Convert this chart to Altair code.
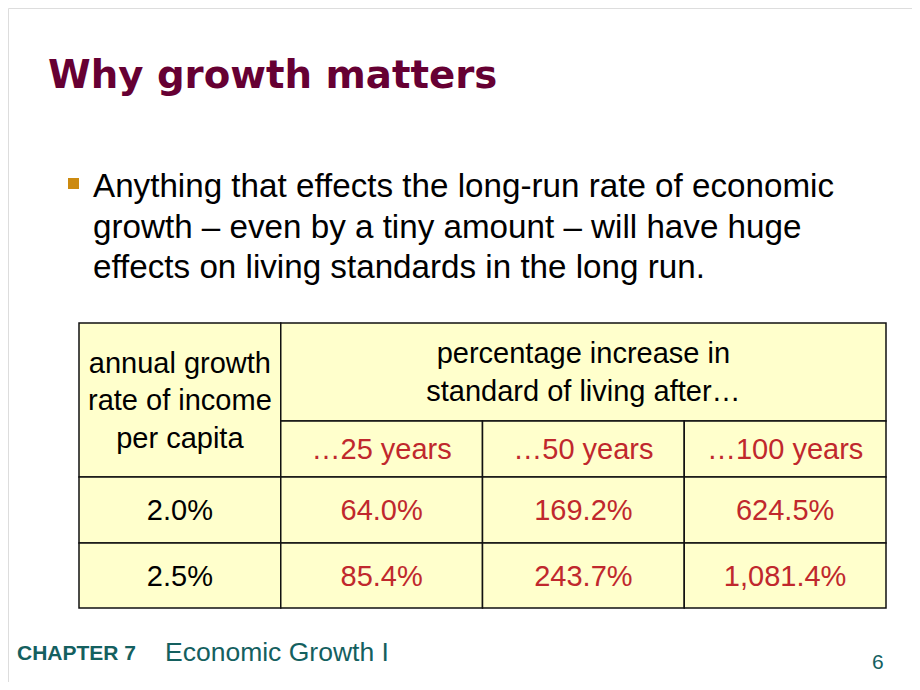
import altair as alt
import pandas as pd

# ---------------- content ----------------
TITLE = "Why growth matters"
BULLET_LINES = [
    "Anything that effects the long-run rate of economic",
    "growth – even by a tiny amount – will have huge",
    "effects on living standards in the long run.",
]
ROW_HEADER = ["annual growth", "rate of income", "per capita"]
COL_HEADER = ["percentage increase in", "standard of living after…"]
HORIZONS = ["…25 years", "…50 years", "…100 years"]
RATES = ["2.0%", "2.5%"]
INCREASE_AT_2_0 = [64.0, 169.2, 624.5]
INCREASE_AT_2_5 = [85.4, 243.7, 1081.4]
FOOTER_CHAPTER = "CHAPTER 7"
FOOTER_TITLE = "Economic Growth I"
PAGE_NUMBER = "6"

# ---------------- layout ----------------
W, H = 904, 674
ROW_H = [98, 56, 66, 65]          # relative heights of the table rows
EDGES = [0]
for h in ROW_H:
    EDGES.append(EDGES[-1] + h)
N_COLS = 4
X_RANGE = [71, 878]
Y_RANGE = [315, 600]
LH = 37.5

BLACK = "#000000"
RED = "#C0282D"
FILL = "#FFFFCC"
MAROON = "#660033"
TEAL = "#14605F"
BULLET = "#CC8A10"
FONT = "Liberation Sans"

cells = []
def add(c0, c1, r0, r1, text, color):
    lines = text if isinstance(text, list) else [text]
    cells.append(dict(c0=c0, c1=c1, y0=EDGES[r0], y1=EDGES[r1],
                      xm=(c0 + c1) / 2, ym=(EDGES[r0] + EDGES[r1]) / 2,
                      text="\n".join(lines), color=color, n=len(lines)))

add(0, 1, 0, 2, ROW_HEADER, BLACK)
add(1, 4, 0, 1, COL_HEADER, BLACK)
for i, hz in enumerate(HORIZONS):
    add(1 + i, 2 + i, 1, 2, hz, RED)
for r, (rate, vals) in enumerate(zip(RATES, [INCREASE_AT_2_0, INCREASE_AT_2_5])):
    add(0, 1, 2 + r, 3 + r, rate, BLACK)
    for i, v in enumerate(vals):
        add(1 + i, 2 + i, 2 + r, 3 + r, f"{v:,.1f}%", RED)

df = pd.DataFrame(cells)

xs = alt.Scale(domain=[0, N_COLS], range=X_RANGE, nice=False, zero=False)
ys = alt.Scale(domain=[0, EDGES[-1]], range=Y_RANGE, nice=False, zero=False)

base = alt.Chart(df)

rects = base.mark_rect(fill=FILL, stroke="#111111", strokeWidth=1.5).encode(
    x=alt.X("c0:Q", scale=xs, axis=None),
    x2="c1:Q",
    y=alt.Y("y0:Q", scale=ys, axis=None),
    y2="y1:Q",
)

def text_layer(n):
    return base.transform_filter(f"datum.n == {n}").mark_text(
        font=FONT, fontSize=29, lineBreak="\n", lineHeight=LH,
        align="center", baseline="middle", dy=-(n - 1) * LH / 2 + 1,
    ).encode(
        x=alt.X("xm:Q", scale=xs, axis=None),
        y=alt.Y("ym:Q", scale=ys, axis=None),
        text="text:N",
        color=alt.Color("color:N", scale=None),
    )

one = pd.DataFrame({"t": [TITLE]})
title = alt.Chart(one).mark_text(
    font="DejaVu Sans", fontWeight="bold", fontSize=38.7, color=MAROON,
    align="left", baseline="alphabetic",
).encode(x=alt.value(40), y=alt.value(80), text="t:N")

bullet_sq = alt.Chart(one).mark_rect(color=BULLET).encode(
    x=alt.value(60), x2=alt.value(71), y=alt.value(170), y2=alt.value(181)
)

bullet_txt = alt.Chart(pd.DataFrame({"t": ["\n".join(BULLET_LINES)]})).mark_text(
    font=FONT, fontSize=33.2, lineBreak="\n", lineHeight=40.5, color=BLACK,
    align="left", baseline="alphabetic",
).encode(x=alt.value(85), y=alt.value(189), text="t:N")

chap = alt.Chart(pd.DataFrame({"t": [FOOTER_CHAPTER]})).mark_text(
    font=FONT, fontWeight="bold", fontSize=21, color=TEAL,
    align="left", baseline="alphabetic",
).encode(x=alt.value(9), y=alt.value(652), text="t:N")

ftitle = alt.Chart(pd.DataFrame({"t": [FOOTER_TITLE]})).mark_text(
    font=FONT, fontSize=26.5, color=TEAL, align="left", baseline="alphabetic",
).encode(x=alt.value(157), y=alt.value(653), text="t:N")

page = alt.Chart(pd.DataFrame({"t": [PAGE_NUMBER]})).mark_text(
    font=FONT, fontSize=21, color=TEAL, align="left", baseline="alphabetic",
).encode(x=alt.value(864), y=alt.value(661), text="t:N")

chart = alt.layer(
    rects, text_layer(1), text_layer(2), text_layer(3),
    title, bullet_sq, bullet_txt, chap, ftitle, page
).properties(
    width=W, height=H, padding=0, autosize=alt.AutoSizeParams(type="none"),
).configure_view(stroke=None).configure(background="white")

chart.save("out.html", embed_options={"renderer": "svg", "actions": False})
